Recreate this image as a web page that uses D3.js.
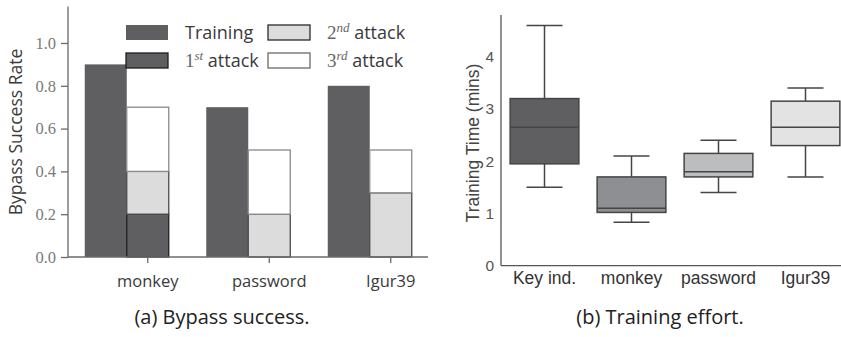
<!DOCTYPE html>
<html>
<head>
<meta charset="utf-8">
<script src="https://cdn.jsdelivr.net/npm/d3@7"></script>
<style>
  html, body { margin: 0; padding: 0; background: #fff; }
  svg { display: block; }
</style>
</head>
<body>
<svg id="fig" width="841" height="337"></svg>
<script>
// ---- (a) bypass success data ----
const passwords = ["monkey", "password", "Igur39"];
const trainingRate = [0.9, 0.7, 0.8];
const attack1 = [0.2, 0.0, 0.0];
const attack2 = [0.2, 0.2, 0.3];
const attack3 = [0.3, 0.3, 0.2];
const rateTicks = [0.0, 0.2, 0.4, 0.6, 0.8, 1.0];

// ---- (b) training effort data (minutes) ----
const methods = ["Key ind.", "monkey", "password", "Igur39"];
const whiskerLow = [1.5, 0.83, 1.4, 1.7];
const quart1 = [1.95, 1.02, 1.7, 2.3];
const medians = [2.65, 1.1, 1.8, 2.65];
const quart3 = [3.2, 1.7, 2.15, 3.15];
const whiskerHigh = [4.6, 2.1, 2.4, 3.4];
const timeTicks = [0, 1, 2, 3, 4];

const svg = d3.select("#fig");
const SANS = "'Open Sans', sans-serif";
const SERIF = "'Liberation Serif', serif";
const ARIAL = "'Liberation Sans', Arial, sans-serif";

// ================= Panel (a) =================
{
  const g = svg.append("g");
  const y = d3.scaleLinear().domain([0, 1.17]).range([257, 6.6]);
  const x = d3.scaleBand().domain(passwords).range([87, 87 + 3 * 121.5]);
  const bw = 42;
  const cx = d => x(d) + x.bandwidth() / 2;

  const fills = { train: "#5f5f61", a1: "#5f5f61", a2: "#dcdcdd", a3: "#ffffff" };
  const strokes = { a1: "#1e1e1e", a2: "#4a4a4a", a3: "#8a8a8a" };

  // training bars
  g.selectAll(".train").data(passwords).join("rect")
    .attr("x", d => cx(d) - 1.5 * bw)
    .attr("width", bw)
    .attr("y", (d, i) => y(trainingRate[i]))
    .attr("height", (d, i) => y(0) - y(trainingRate[i]))
    .attr("fill", fills.train);

  // stacked attack bars
  const layers = [
    { vals: attack1, key: "a1" },
    { vals: attack2, key: "a2" },
    { vals: attack3, key: "a3" }
  ];
  const base = passwords.map(() => 0);
  layers.forEach(L => {
    passwords.forEach((p, i) => {
      const v = L.vals[i];
      if (v > 0) {
        g.append("rect")
          .attr("x", cx(p) - 0.5 * bw)
          .attr("width", bw)
          .attr("y", y(base[i] + v))
          .attr("height", y(base[i]) - y(base[i] + v))
          .attr("fill", fills[L.key])
          .attr("stroke", strokes[L.key])
          .attr("stroke-width", 1.3);
      }
      base[i] += v;
    });
  });

  // axes
  const yAx = g.append("g").attr("transform", "translate(68,0)")
    .call(d3.axisLeft(y).tickValues(rateTicks).tickFormat(d3.format(".1f")).tickSize(7).tickPadding(5));
  yAx.select(".domain").attr("d", `M0,${y(1.17)}V${y(0)}`);
  const xAx = g.append("g").attr("transform", `translate(0,${y(0)})`)
    .call(d3.axisBottom(x).tickSize(6).tickPadding(12));
  xAx.select(".domain").attr("d", "M68,0H428");
  [yAx, xAx].forEach(a => {
    a.selectAll("path, line").attr("stroke", "#6a6a6a").attr("stroke-width", 1.3);
  });
  yAx.selectAll("text").attr("font-family", SERIF).attr("font-size", 16.5).attr("fill", "#7a7a7a");
  xAx.selectAll("text").attr("font-family", SANS).attr("font-size", 16.5).attr("fill", "#3a3a3a");

  g.append("text")
    .attr("transform", "translate(22,132) rotate(-90)")
    .attr("text-anchor", "middle")
    .attr("font-family", SANS).attr("font-size", 17.5).attr("fill", "#3a3a3a")
    .text("Bypass Success Rate");

  // legend
  const legend = [
    { x: 126, y: 25, fill: fills.train, stroke: "none", num: null, label: "Training" },
    { x: 268, y: 25, fill: fills.a2, stroke: "#2a2a2a", num: "2", sup: "nd" },
    { x: 126, y: 53, fill: fills.a1, stroke: "#1e1e1e", num: "1", sup: "st" },
    { x: 268, y: 53, fill: fills.a3, stroke: "#6a6a6a", num: "3", sup: "rd" }
  ];
  legend.forEach(L => {
    g.append("rect").attr("x", L.x).attr("y", L.y).attr("width", 42).attr("height", 15)
      .attr("fill", L.fill).attr("stroke", L.stroke).attr("stroke-width", 1.3);
    const t = g.append("text").attr("x", L.x + 59).attr("y", L.y + 14)
      .attr("font-size", 18).attr("fill", "#3a3a3a");
    if (L.num === null) {
      t.attr("font-family", SANS).text(L.label);
    } else {
      t.append("tspan").attr("font-family", SERIF).attr("font-size", 19).attr("fill", "#666").text(L.num);
      t.append("tspan").attr("font-family", SERIF).attr("font-style", "italic").attr("font-size", 13)
        .attr("fill", "#666").attr("dy", -7).text(L.sup);
      t.append("tspan").attr("font-family", SANS).attr("dy", 7).text("\u00a0attack");
    }
  });
}

// ================= Panel (b) =================
{
  const g = svg.append("g");
  const y = d3.scaleLinear().domain([0, 4.8]).range([265.7, 15]);
  const x = d3.scaleBand().domain(methods).range([501, 501 + 4 * 87]).paddingInner(0.21).paddingOuter(0.105);
  const cx = d => x(d) + x.bandwidth() / 2;
  const boxFill = ["#5f5f61", "#8e8f92", "#bcbdbf", "#e3e3e4"];
  const edge = "#454545";
  const capW = 36;

  methods.forEach((m, i) => {
    const c = cx(m);
    // whiskers
    g.append("line").attr("x1", c).attr("x2", c).attr("y1", y(whiskerHigh[i])).attr("y2", y(quart3[i]))
      .attr("stroke", edge).attr("stroke-width", 1.5);
    g.append("line").attr("x1", c).attr("x2", c).attr("y1", y(quart1[i])).attr("y2", y(whiskerLow[i]))
      .attr("stroke", edge).attr("stroke-width", 1.5);
    [whiskerHigh[i], whiskerLow[i]].forEach(v => {
      g.append("line").attr("x1", c - capW / 2).attr("x2", c + capW / 2).attr("y1", y(v)).attr("y2", y(v))
        .attr("stroke", edge).attr("stroke-width", 1.5);
    });
    // box
    g.append("rect").attr("x", x(m)).attr("width", x.bandwidth())
      .attr("y", y(quart3[i])).attr("height", y(quart1[i]) - y(quart3[i]))
      .attr("fill", boxFill[i]).attr("stroke", edge).attr("stroke-width", 1.5);
    // median
    g.append("line").attr("x1", x(m)).attr("x2", x(m) + x.bandwidth())
      .attr("y1", y(medians[i])).attr("y2", y(medians[i]))
      .attr("stroke", edge).attr("stroke-width", 1.5);
  });

  const yAx = g.append("g").attr("transform", "translate(501,0)")
    .call(d3.axisLeft(y).tickValues(timeTicks).tickFormat(d3.format("d")).tickSize(0).tickPadding(7));
  yAx.select(".domain").attr("d", `M0,${y(4.8)}V${y(0)}`);
  const xAx = g.append("g").attr("transform", `translate(0,${y(0)})`)
    .call(d3.axisBottom(x).tickSize(0).tickPadding(6));
  xAx.select(".domain").attr("d", "M501,0H841");
  [yAx, xAx].forEach(a => a.selectAll("path").attr("stroke", "#555").attr("stroke-width", 1.3));
  yAx.selectAll("text").attr("font-family", ARIAL).attr("font-size", 15.5).attr("fill", "#555");
  xAx.selectAll("text").attr("font-family", ARIAL).attr("font-size", 17.5).attr("fill", "#333");

  g.append("text")
    .attr("transform", "translate(479,143) rotate(-90)")
    .attr("text-anchor", "middle")
    .attr("font-family", ARIAL).attr("font-size", 17.5).attr("fill", "#444")
    .text("Training Time (mins)");
}

// ---- captions ----
svg.append("text").attr("x", 222).attr("y", 324).attr("text-anchor", "middle")
  .attr("font-family", SANS).attr("font-size", 20).attr("fill", "#222").text("(a) Bypass success.");
svg.append("text").attr("x", 660).attr("y", 324).attr("text-anchor", "middle")
  .attr("font-family", SANS).attr("font-size", 20).attr("fill", "#222").text("(b) Training effort.");
</script>
</body>
</html>
